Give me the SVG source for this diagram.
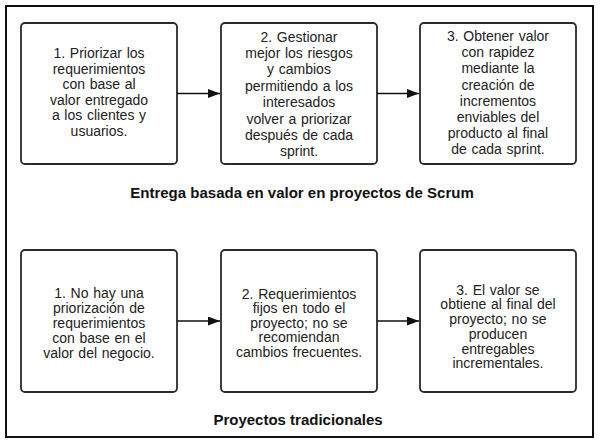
<svg xmlns="http://www.w3.org/2000/svg" width="604" height="443" viewBox="0 0 604 443">
<style>
.box{fill:#fff;stroke:#2a2a2a;stroke-width:1.8}
.t{font-family:"Liberation Sans",Arial,sans-serif;font-size:14px;word-spacing:0.8px;fill:#222;text-anchor:middle}
.h{font-family:"Liberation Sans",Arial,sans-serif;font-size:15px;font-weight:bold;fill:#111;text-anchor:middle}
.c{stroke:#111;stroke-width:1.4;fill:none}
</style>
<defs>
<marker id="ah" viewBox="0 0 12 9" refX="12" refY="4.5" markerWidth="12" markerHeight="9" markerUnits="userSpaceOnUse" orient="auto">
<path d="M0,0 L12,4.5 L0,9 Z" fill="#111"/>
</marker>
</defs>
<rect x="0" y="0" width="604" height="443" fill="#fff"/>
<rect x="6" y="6" width="587" height="431" fill="none" stroke="#111" stroke-width="2"/>
<g id="n1">
<rect class="box" x="21" y="23" width="156" height="141" rx="4"/>
<text class="t"><tspan x="99" y="58">1. Priorizar los</tspan><tspan x="99" y="73.6">requerimientos</tspan><tspan x="99" y="89.2">con base al</tspan><tspan x="99" y="104.8">valor entregado</tspan><tspan x="99" y="120.4">a los clientes y</tspan><tspan x="99" y="136">usuarios.</tspan></text>
</g>
<g id="n2">
<rect class="box" x="221" y="23" width="156" height="141" rx="4"/>
<text class="t"><tspan x="299" y="41.5">2. Gestionar</tspan><tspan x="299" y="57.9">mejor los riesgos</tspan><tspan x="299" y="74.3">y cambios</tspan><tspan x="299" y="90.7">permitiendo a los</tspan><tspan x="299" y="107.1">interesados</tspan><tspan x="299" y="123.5">volver a priorizar</tspan><tspan x="299" y="139.9">después de cada</tspan><tspan x="299" y="156.3">sprint.</tspan></text>
</g>
<g id="n3">
<rect class="box" x="420" y="23" width="156" height="141" rx="4"/>
<text class="t"><tspan x="498" y="41">3. Obtener valor</tspan><tspan x="498" y="57.2">con rapidez</tspan><tspan x="498" y="73.4">mediante la</tspan><tspan x="498" y="89.6">creación de</tspan><tspan x="498" y="105.8">incrementos</tspan><tspan x="498" y="122">enviables del</tspan><tspan x="498" y="138.2">producto al final</tspan><tspan x="498" y="154.4">de cada sprint.</tspan></text>
</g>
<g id="title1">
<text class="h" x="302" y="198">Entrega basada en valor en proyectos de Scrum</text>
</g>
<g id="n4">
<rect class="box" x="21" y="250" width="156" height="142" rx="4"/>
<text class="t"><tspan x="99" y="297.5">1. No hay una</tspan><tspan x="99" y="312.5">priorización de</tspan><tspan x="99" y="327.5">requerimientos</tspan><tspan x="99" y="342.5">con base en el</tspan><tspan x="99" y="357.5">valor del negocio.</tspan></text>
</g>
<g id="n5">
<rect class="box" x="221" y="250" width="156" height="142" rx="4"/>
<text class="t"><tspan x="299" y="298.5">2. Requerimientos</tspan><tspan x="299" y="313">fijos en todo el</tspan><tspan x="299" y="327.5">proyecto; no se</tspan><tspan x="299" y="342">recomiendan</tspan><tspan x="299" y="356.5">cambios frecuentes.</tspan></text>
</g>
<g id="n6">
<rect class="box" x="420" y="250" width="156" height="142" rx="4"/>
<text class="t"><tspan x="498" y="294.5">3. El valor se</tspan><tspan x="498" y="309.3">obtiene al final del</tspan><tspan x="498" y="324">proyecto; no se</tspan><tspan x="498" y="338.8">producen</tspan><tspan x="498" y="353.6">entregables</tspan><tspan x="498" y="368.4">incrementales.</tspan></text>
</g>
<g id="title2">
<text class="h" x="298" y="425">Proyectos tradicionales</text>
</g>
<g id="connectors">
<line class="c" x1="177" y1="93.5" x2="220" y2="93.5" marker-end="url(#ah)"/>
<line class="c" x1="377" y1="93.5" x2="419" y2="93.5" marker-end="url(#ah)"/>
<line class="c" x1="177" y1="321" x2="220" y2="321" marker-end="url(#ah)"/>
<line class="c" x1="377" y1="321" x2="419" y2="321" marker-end="url(#ah)"/>
</g>
</svg>
